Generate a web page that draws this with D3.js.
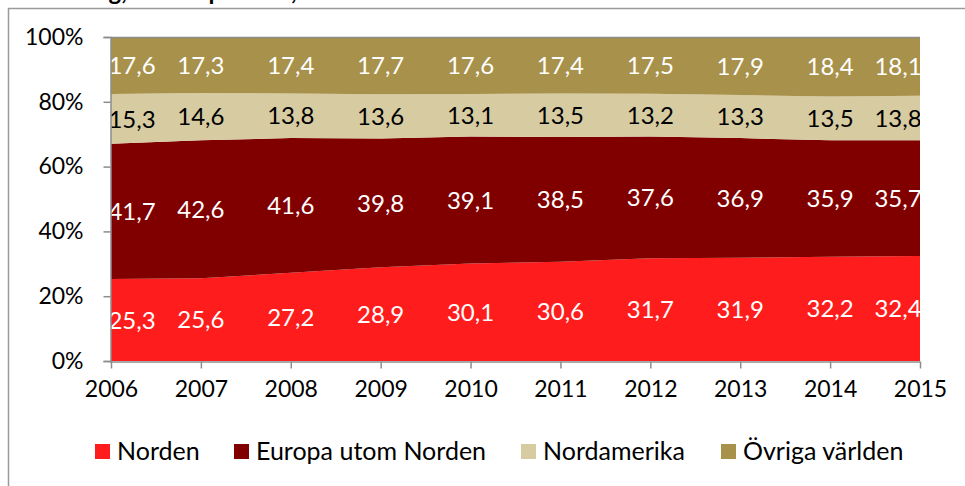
<!DOCTYPE html>
<html>
<head>
<meta charset="utf-8">
<script src="https://cdn.jsdelivr.net/npm/d3@7"></script>
<style>
  body { margin: 0; background: #fff; }
  svg { display: block; font-family: Lato, "Open Sans", sans-serif; }
</style>
</head>
<body>
<div id="chart"></div>
<script>
const years = [2006, 2007, 2008, 2009, 2010, 2011, 2012, 2013, 2014, 2015];
const seriesNames = ["Norden", "Europa utom Norden", "Nordamerika", "Övriga världen"];
const norden = [25.3, 25.6, 27.2, 28.9, 30.1, 30.6, 31.7, 31.9, 32.2, 32.4];
const europa = [41.7, 42.6, 41.6, 39.8, 39.1, 38.5, 37.6, 36.9, 35.9, 35.7];
const nordamerika = [15.3, 14.6, 13.8, 13.6, 13.1, 13.5, 13.2, 13.3, 13.5, 13.8];
const ovriga = [17.6, 17.3, 17.4, 17.7, 17.6, 17.4, 17.5, 17.9, 18.4, 18.1];
const yTicks = [0, 0.2, 0.4, 0.6, 0.8, 1];
const colors = ["#ff1c1c", "#800000", "#d7cba2", "#a8914a"];
const labelColors = ["#fff", "#fff", "#000", "#fff"];

const width = 965;
const height = 486;

// rows for the stack
const rows = years.map((y, i) => ({
    year: y,
    "Norden": norden[i],
    "Europa utom Norden": europa[i],
    "Nordamerika": nordamerika[i],
    "Övriga världen": ovriga[i]
}));

const stack = d3.stack().keys(seriesNames).offset(d3.stackOffsetExpand);
const layers = stack(rows);

const x = d3.scaleLinear().domain([2006, 2015]).range([111, 920]);
const y = d3.scaleLinear().domain([0, 1]).range([361, 37]);

const svg = d3.select("#chart")
    .append("svg")
    .attr("width", width)
    .attr("height", height);

// frame (cut off at top and right like the source)
svg.append("path")
    .attr("d", "M8.5,486 V8.5 H965")
    .attr("fill", "none")
    .attr("stroke", "#9a9a9a")
    .attr("stroke-width", 1.5);

// title, mostly outside the picture
svg.append("text")
    .attr("x", 8)
    .attr("y", 0)
    .attr("font-weight", "bold")
    .attr("font-size", 24)
    .attr("fill", "#000")
    .text("Fördelning, andel i procent, 2006–2015");

svg.append("clipPath").attr("id", "plotclip")
    .append("rect")
    .attr("x", 111).attr("y", 37)
    .attr("width", 809).attr("height", 324);

const area = d3.area()
    .x(d => x(d.data.year))
    .y0(d => y(d[0]))
    .y1(d => y(d[1]));

svg.append("g")
    .selectAll("path")
    .data(layers)
    .enter()
    .append("path")
    .attr("d", area)
    .attr("fill", (d, i) => colors[i]);

// top line of plot
svg.append("line")
    .attr("x1", 111).attr("x2", 920)
    .attr("y1", 37.5).attr("y2", 37.5)
    .attr("stroke", "#8c8c8c")
    .attr("stroke-width", 1.5);

// value labels
const labels = svg.append("g").attr("clip-path", "url(#plotclip)")
    .attr("font-size", 24);

layers.forEach((layer, li) => {
    labels.selectAll(null)
        .data(layer)
        .enter()
        .append("text")
        .attr("x", (d, i) => {
            if (i === 0) return x(d.data.year) + 21;
            if (i === years.length - 1) return x(d.data.year) - 22;
            return x(d.data.year);
        })
        .attr("y", d => y((d[0] + d[1]) / 2))
        .attr("dy", "0.36em")
        .attr("text-anchor", "middle")
        .attr("fill", labelColors[li])
        .text(d => d3.format(".1f")(d.data[seriesNames[li]]).replace(".", ","));
});

// axes
const yAxis = d3.axisLeft(y)
    .tickValues(yTicks)
    .tickFormat(d3.format(".0%"))
    .tickSize(7)
    .tickPadding(20);

const xAxis = d3.axisBottom(x)
    .tickValues(years)
    .tickFormat(d3.format("d"))
    .tickSize(7)
    .tickPadding(12);

const gy = svg.append("g")
    .attr("transform", "translate(110.5,0)")
    .call(yAxis);

const gx = svg.append("g")
    .attr("transform", "translate(0,361.5)")
    .call(xAxis);

[gy, gx].forEach(g => {
    g.selectAll("path, line").attr("stroke", "#8c8c8c").attr("stroke-width", 1.5);
    g.selectAll("text")
        .attr("font-size", 23)
        .attr("font-family", "Lato, 'Open Sans', sans-serif")
        .attr("fill", "#000");
});
gx.select(".domain").attr("d", "M110,0.5H920");

// legend
const legendX = [95, 234, 521, 721];
const legend = svg.append("g");
seriesNames.forEach((name, i) => {
    legend.append("rect")
        .attr("x", legendX[i]).attr("y", 444)
        .attr("width", 15).attr("height", 15)
        .attr("fill", colors[i]);
    legend.append("text")
        .attr("x", legendX[i] + 22)
        .attr("y", 460)
        .attr("font-size", 25)
        .attr("fill", "#000")
        .text(name);
});
</script>
</body>
</html>
